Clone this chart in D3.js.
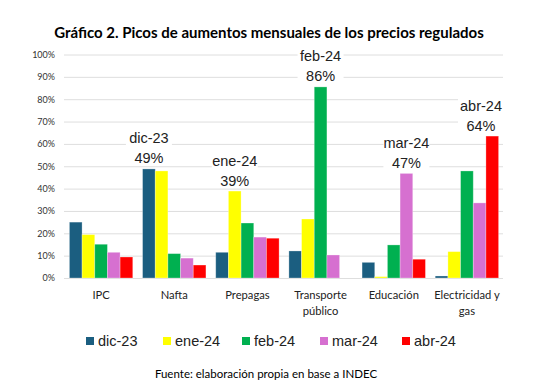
<!DOCTYPE html>
<html><head><meta charset="utf-8">
<script src="https://cdn.jsdelivr.net/npm/d3@7"></script>
<style>body{margin:0;background:#fff}svg{display:block}</style>
</head><body>
<svg id="c" width="548" height="390"></svg>
<script>
const categories = [["IPC"],["Nafta"],["Prepagas"],["Transporte","público"],["Educación"],["Electricidad y","gas"]];
const seriesNames = ["dic-23","ene-24","feb-24","mar-24","abr-24"];
const colors = ["#1b5e80","#ffff00","#00b050","#d670d0","#ff0000"];
const dic23 = [25.0, 48.8, 11.5, 12.1, 7.0, 0.9];
const ene24 = [19.4, 47.9, 38.9, 26.4, 0.6, 11.8];
const feb24 = [15.1, 10.9, 24.6, 85.5, 14.8, 47.9];
const mar24 = [11.5, 8.9, 18.3, 10.3, 46.8, 33.6];
const abr24 = [9.4, 5.8, 17.8, 0, 8.4, 63.5];
const yTicks = [0,10,20,30,40,50,60,70,80,90,100];
const peaks = [
  {cat:1, series:0, text:"49%"},
  {cat:2, series:1, text:"39%"},
  {cat:3, series:2, text:"86%"},
  {cat:4, series:3, text:"47%"},
  {cat:5, series:4, text:"64%"}
];
const values = [dic23, ene24, feb24, mar24, abr24];

const svg = d3.select("#c");
const plotRight = 503.5;
const x0 = d3.scaleBand().domain(d3.range(categories.length)).range([64.5, plotRight]).paddingInner(0.134).paddingOuter(0.067);
const x1 = d3.scaleBand().domain(d3.range(seriesNames.length)).range([0, x0.bandwidth()]);
const y = d3.scaleLinear().domain([0,100]).range([278, 54.5]);

svg.append("text").attr("x", 269).attr("y", 38).attr("text-anchor","middle")
  .attr("font-family","Lato").attr("font-weight","bold").attr("font-size",15).attr("fill","#000")
  .text("Gráfico 2. Picos de aumentos mensuales de los precios regulados");

// grid
svg.append("g").selectAll("line").data(yTicks).join("line")
  .attr("x1",64).attr("x2",503).attr("y1",d=>y(d)+0.5).attr("y2",d=>y(d)+0.5)
  .attr("stroke","#dedede").attr("stroke-width",1);

const ya = svg.append("g").attr("transform","translate(64,0)")
  .call(d3.axisLeft(y).tickValues(yTicks).tickFormat(d=>d+"%").tickSize(0).tickPadding(9));
ya.select(".domain").remove();
ya.selectAll("text").attr("font-family","Lato").attr("font-size",9).attr("fill","#333");

// bars
const g = svg.append("g");
categories.forEach((c,i)=>{
  values.forEach((arr,s)=>{
    const v = arr[i];
    if (v<=0) return;
    g.append("rect").attr("x", x0(i)+x1(s)).attr("width", x1.bandwidth())
      .attr("y", y(v)).attr("height", y(0)-y(v))
      .attr("fill", colors[s]).attr("stroke","rgba(255,255,255,0.35)").attr("stroke-width",0.8);
  });
});

// x labels
const xl = svg.append("g");
categories.forEach((lines,i)=>{
  const t = xl.append("text").attr("x", x0(i)+x0.bandwidth()/2).attr("y", 299)
    .attr("text-anchor","middle").attr("font-family","Lato").attr("font-size",11.2).attr("fill","#222");
  lines.forEach((l,k)=>t.append("tspan").attr("x", x0(i)+x0.bandwidth()/2).attr("dy", k?16:0).text(l));
});

// peak annotations (kept inside the plot area)
peaks.forEach(p=>{
  const v = values[p.series][p.cat];
  const cx = Math.min(x0(p.cat)+x1(p.series)+x1.bandwidth()/2, plotRight - 22.5);
  const base = y(v) - 5.5;
  svg.append("rect").attr("x", cx-23).attr("y", base-36).attr("width",46).attr("height",38).attr("fill","#fff");
  svg.append("text").attr("x",cx).attr("y",base-20).attr("text-anchor","middle")
    .attr("font-family","Liberation Sans").attr("font-size",14.5).attr("fill","#222").text(seriesNames[p.series]);
  svg.append("text").attr("x",cx).attr("y",base).attr("text-anchor","middle")
    .attr("font-family","Liberation Sans").attr("font-size",14.5).attr("fill","#222").text(p.text);
});

// legend
const legX = [86, 163, 242, 320, 402];
seriesNames.forEach((n,s)=>{
  svg.append("rect").attr("x",legX[s]).attr("y",337).attr("width",8).attr("height",8).attr("fill",colors[s]);
  svg.append("text").attr("x",legX[s]+12).attr("y",346).attr("font-family","Liberation Sans")
    .attr("font-size",14.5).attr("fill","#222").text(n);
});

svg.append("text").attr("x",266).attr("y",378).attr("text-anchor","middle")
  .attr("font-family","Lato").attr("font-size",11.5).attr("fill","#000")
  .text("Fuente: elaboración propia en base a INDEC");
</script>
</body></html>
